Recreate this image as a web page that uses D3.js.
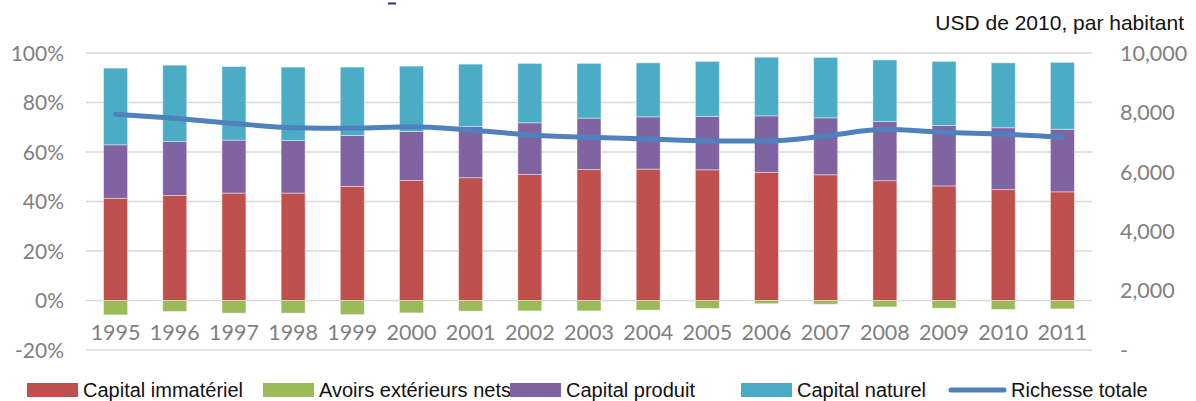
<!DOCTYPE html>
<html>
<head>
<meta charset="utf-8">
<script src="https://cdn.jsdelivr.net/npm/d3@7"></script>
<style>
  body { margin: 0; background: #fff; }
  svg { display: block; }
</style>
</head>
<body>
<div id="chart"></div>
<script>
// Data
const years = ['1995', '1996', '1997', '1998', '1999', '2000', '2001', '2002', '2003',
    '2004', '2005', '2006', '2007', '2008', '2009', '2010', '2011'];

// shares in % of total wealth
const capitalImmateriel = [41.3, 42.4, 43.4, 43.4, 46.1, 48.5, 49.6, 50.9, 52.9, 53.1, 52.8, 51.8, 50.8, 48.4, 46.3, 44.8, 43.9];
const avoirsExterieurs = [-5.8, -4.4, -5.1, -5.1, -5.7, -5.0, -4.3, -4.2, -4.2, -3.9, -3.2, -1.3, -1.5, -2.6, -3.1, -3.6, -3.4];
const capitalProduit = [21.6, 21.8, 21.4, 21.2, 20.6, 19.8, 20.7, 20.9, 20.8, 21.1, 21.5, 22.8, 23.0, 23.9, 24.4, 25.0, 25.3];
const capitalNaturel = [31.0, 30.9, 29.7, 29.7, 27.6, 26.4, 25.2, 24.0, 22.1, 21.8, 22.3, 23.7, 24.4, 24.9, 25.9, 26.2, 27.0];

// USD de 2010 par habitant
const richesseTotale = [7940, 7800, 7630, 7485, 7465, 7520, 7405, 7240, 7160, 7105, 7040, 7040, 7205, 7430, 7330, 7265, 7160];

const leftTicks = [-20, 0, 20, 40, 60, 80, 100];
const rightTicks = [0, 2000, 4000, 6000, 8000, 10000];

const seriesNames = ['Capital immatériel', 'Avoirs extérieurs nets', 'Capital produit', 'Capital naturel', 'Richesse totale'];
const colours = {
    'Capital immatériel': '#c0504d',
    'Avoirs extérieurs nets': '#9bbb59',
    'Capital produit': '#8064a2',
    'Capital naturel': '#4bacc6',
    'Richesse totale': '#4f81bd'
};

const width = 1196;
const height = 401;
const margin = { top: 53, right: 104, bottom: 51, left: 86 };

const svg = d3.select('#chart')
    .append('svg')
    .attr('width', width)
    .attr('height', height);

const x = d3.scaleBand()
    .domain(years)
    .range([margin.left, width - margin.right])
    .paddingInner(0.595)
    .paddingOuter(0.2975);

const y = d3.scaleLinear()
    .domain([-20, 100])
    .range([height - margin.bottom, margin.top]);

const y2 = d3.scaleLinear()
    .domain([0, 10000])
    .range([height - margin.bottom, margin.top]);

const tickFont = 'Lato, "Open Sans", sans-serif';
const textFont = '"Liberation Sans", Arial, sans-serif';

// Gridlines
svg.append('g')
    .selectAll('line')
    .data(leftTicks)
    .join('line')
    .attr('x1', margin.left)
    .attr('x2', width - margin.right)
    .attr('y1', d => y(d))
    .attr('y2', d => y(d))
    .attr('stroke', '#d9d9d9')
    .attr('stroke-width', 1.5);

// Left axis labels
svg.append('g')
    .selectAll('text')
    .data(leftTicks)
    .join('text')
    .attr('x', 64)
    .attr('y', d => y(d))
    .attr('dy', '0.36em')
    .attr('text-anchor', 'end')
    .attr('fill', '#7f7f7f')
    .style('font', `21px ${tickFont}`)
    .text(d => d + '%');

// Right axis labels
svg.append('g')
    .selectAll('text')
    .data(rightTicks)
    .join('text')
    .attr('x', 1120)
    .attr('y', d => y2(d))
    .attr('dy', '0.36em')
    .attr('text-anchor', 'start')
    .attr('fill', '#7f7f7f')
    .style('font', `21.5px ${tickFont}`)
    .text(d => d === 0 ? '-' : d3.format(',')(d));

// Stacked bars (positive parts stack upwards, net foreign assets go below zero)
const positive = [
    { name: 'Capital immatériel', values: capitalImmateriel },
    { name: 'Capital produit', values: capitalProduit },
    { name: 'Capital naturel', values: capitalNaturel }
];

const segments = [];
years.forEach((yr, i) => {
    let base = 0;
    positive.forEach(s => {
        segments.push({ year: yr, name: s.name, y0: base, y1: base + s.values[i] });
        base += s.values[i];
    });
    segments.push({ year: yr, name: 'Avoirs extérieurs nets', y0: avoirsExterieurs[i], y1: 0 });
});

svg.append('g')
    .selectAll('rect')
    .data(segments)
    .join('rect')
    .attr('x', d => x(d.year))
    .attr('width', x.bandwidth())
    .attr('y', d => y(d.y1))
    .attr('height', d => y(d.y0) - y(d.y1))
    .attr('fill', d => colours[d.name])
    .attr('stroke', '#f4f4f4')
    .attr('stroke-opacity', 0.6)
    .attr('stroke-width', 0.8);

// Year labels
svg.append('g')
    .selectAll('text')
    .data(years)
    .join('text')
    .attr('x', d => x(d) + x.bandwidth() / 2)
    .attr('y', 332)
    .attr('dy', '0.36em')
    .attr('text-anchor', 'middle')
    .attr('fill', '#7f7f7f')
    .style('font', `21.5px ${tickFont}`)
    .text(d => d);

// Total wealth line on the right axis
const line = d3.line()
    .x((d, i) => x(years[i]) + x.bandwidth() / 2)
    .y(d => y2(d))
    .curve(d3.curveMonotoneX);

svg.append('path')
    .datum(richesseTotale)
    .attr('fill', 'none')
    .attr('stroke', colours['Richesse totale'])
    .attr('stroke-width', 5)
    .attr('stroke-linecap', 'round')
    .attr('stroke-linejoin', 'round')
    .attr('d', line);

// Unit label top right
svg.append('text')
    .attr('x', 1184)
    .attr('y', 30)
    .attr('text-anchor', 'end')
    .attr('fill', '#111')
    .style('font', `21px ${textFont}`)
    .text('USD de 2010, par habitant');

// Small remnant mark at top (cut-off title)
svg.append('line')
    .attr('x1', 388)
    .attr('x2', 396)
    .attr('y1', 3.5)
    .attr('y2', 3.5)
    .attr('stroke', '#1f3864')
    .attr('stroke-width', 2);

// Legend
const legendX = [27, 263, 510, 741, 949];
const legend = svg.append('g')
    .selectAll('g')
    .data(seriesNames)
    .join('g')
    .attr('transform', (d, i) => `translate(${legendX[i]},390)`);

legend.filter(d => d !== 'Richesse totale')
    .append('rect')
    .attr('x', 0)
    .attr('y', -7)
    .attr('width', 51)
    .attr('height', 14)
    .attr('fill', d => colours[d]);

legend.filter(d => d === 'Richesse totale')
    .append('line')
    .attr('x1', 2)
    .attr('x2', 55)
    .attr('y1', 0)
    .attr('y2', 0)
    .attr('stroke', d => colours[d])
    .attr('stroke-width', 5)
    .attr('stroke-linecap', 'round');

legend.append('text')
    .attr('x', d => d === 'Richesse totale' ? 62 : 56)
    .attr('y', 0)
    .attr('dy', '0.36em')
    .attr('fill', '#111')
    .style('font', `20px ${textFont}`)
    .text(d => d);
</script>
</body>
</html>
